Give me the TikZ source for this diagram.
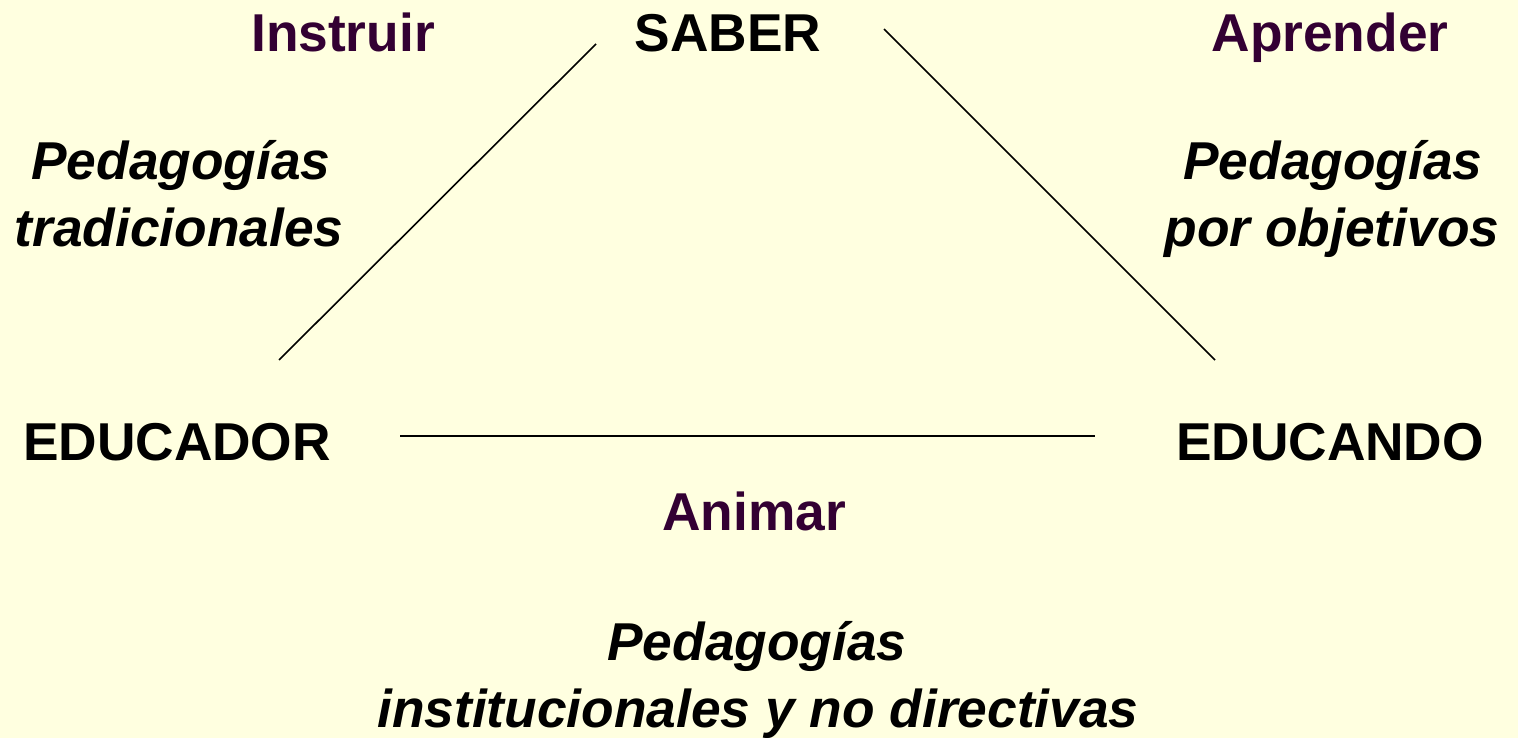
\documentclass[tikz,border=0pt]{standalone}
\usepackage{fontspec}
\setmainfont{Liberation Sans}
\definecolor{bg}{HTML}{FFFFE0}
\definecolor{plum}{HTML}{330033}
\begin{document}
\begin{tikzpicture}[x=1pt,y=-1pt,
  lbl/.style={anchor=base,inner sep=0pt,font=\fontsize{53.3}{60}\selectfont\bfseries},
  verb/.style={lbl,text=plum},
  ped/.style={lbl,font=\fontsize{53.3}{60}\selectfont\bfseries\itshape},
  edge/.style={line width=1.6pt,black}]
\fill[bg] (0,0) rectangle (1518,738);
\useasboundingbox (0,0) rectangle (1518,738);
\node[verb] (instruir) at (343,52) {Instruir};
\node[lbl] (saber) at (728,52) {SABER};
\node[verb] (aprender) at (1330,52) {Aprender};
\node[ped] (pl1) at (181,180) {Pedagogías};
\node[ped] (pl2) at (179,247) {tradicionales};
\node[ped] (pr1) at (1333,180) {Pedagogías};
\node[ped] (pr2) at (1332,247) {por objetivos};
\node[lbl] (educador) at (177,460) {EDUCADOR};
\node[lbl] (educando) at (1330,460) {EDUCANDO};
\node[verb] (animar) at (754,530) {Animar};
\node[ped] (pb1) at (757,660) {Pedagogías};
\node[ped] (pb2) at (758,727) {institucionales y no directivas};
\coordinate (a1) at (279,360);
\coordinate (a2) at (596,44);
\coordinate (b1) at (884,29);
\coordinate (b2) at (1215,360);
\coordinate (c1) at (400,436);
\coordinate (c2) at (1095,436);
\draw[edge] (a1) -- (a2);
\draw[edge] (b1) -- (b2);
\draw[edge] (c1) -- (c2);
\end{tikzpicture}
\end{document}
